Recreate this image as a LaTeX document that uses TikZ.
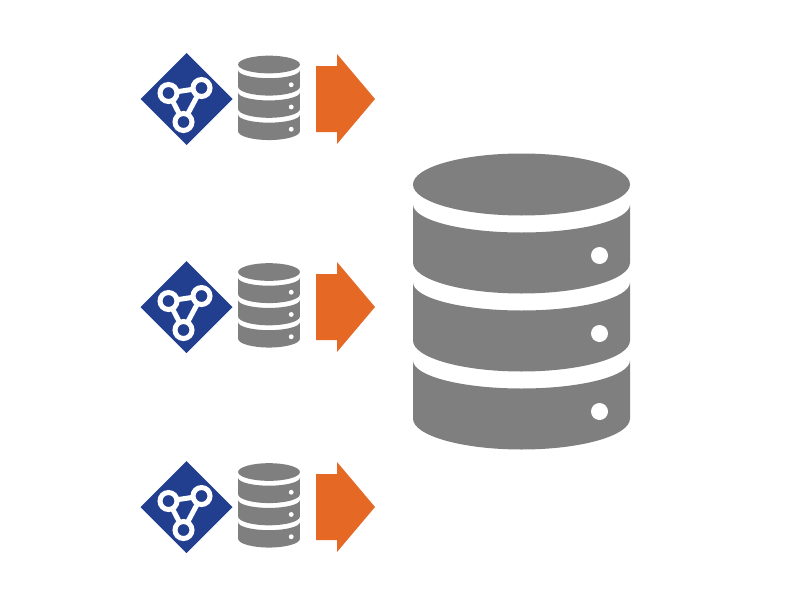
\documentclass[tikz,border=0pt]{standalone}
\usepackage{tikz}

\definecolor{dbgrey}{HTML}{7F7F7F}
\definecolor{graphblue}{HTML}{223F8F}
\definecolor{arroworange}{HTML}{E66825}

\tikzset{
    dbfill/.style={fill=dbgrey},
    ringline/.style={draw=white,line width=0.05cm},
    pics/dbicon/.style={code={
        \fill[dbfill](0,-117.5)ellipse[x radius=108.5,y radius=31];
        \foreach \ytop/\ybot/\ydot in {-97.5/-39.5/-46.5,-19.5/38.5/31.5,58.5/116.5/109.5}{
            \fill[dbfill](-108.5,\ytop)
                .. controls (-108.5,\ytop+15.4) and (-60,\ytop+28) .. (0,\ytop+28)
                .. controls (60,\ytop+28) and (108.5,\ytop+15.4) .. (108.5,\ytop)
                --(108.5,\ybot)
                .. controls (108.5,\ybot+17) and (60,\ybot+31) .. (0,\ybot+31)
                .. controls (-60,\ybot+31) and (-108.5,\ybot+17) .. (-108.5,\ybot)--cycle;
            \fill[white](78,\ydot)circle[radius=8.5];
        }
    }},
    pics/graphicon/.style={code={
        \fill[graphblue](-46,0)--(0,-46)--(46,0)--(0,46)--cycle;
        \draw[ringline](-18,-6)--(15,-11)--(-3,23)--cycle;
        \foreach \cx/\cy in {-18/-6,15/-11,-3/23}{
            \draw[ringline,fill=graphblue](\cx,\cy)circle[radius=8.5];
        }
    }},
    pics/feedarrow/.style={code={
        \fill[arroworange](-59,-33)--(-38,-33)--(-38,-45)--(0,0)--(-38,45)--(-38,33)--(-59,33)--cycle;
    }}
}

\begin{document}
\begin{tikzpicture}[x=0.01cm,y=-0.01cm]
    \useasboundingbox(0,0)rectangle(800,600);

    % one row per source
    \foreach \yg/\yd in {99/98,307/305.5,507/505.5}{
        \pic at(186.5,\yg){graphicon};
        \pic[scale=0.285] at(269,\yd){dbicon};
        \pic at(375,\yg){feedarrow};
    }

    % target store
    \pic at(521.5,302){dbicon};
\end{tikzpicture}
\end{document}
